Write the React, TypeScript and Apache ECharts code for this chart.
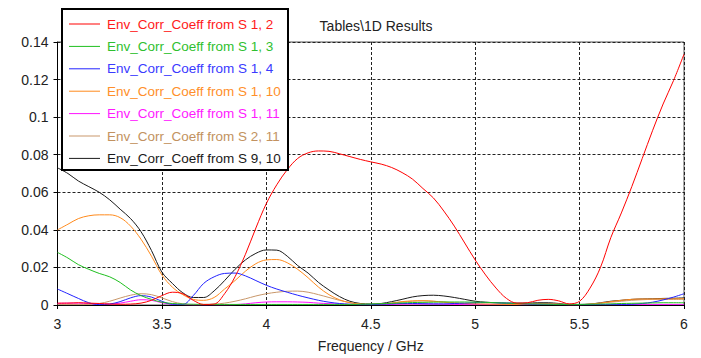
import React, { useEffect, useRef } from "react";
import * as echarts from "echarts";

// Frequency sample points (GHz)
const freq = [
  3.0, 3.05, 3.1, 3.15, 3.2, 3.25, 3.3, 3.35, 3.4, 3.45,
  3.5, 3.55, 3.6, 3.65, 3.7, 3.75, 3.8, 3.85, 3.9, 3.95,
  4.0, 4.05, 4.1, 4.15, 4.2, 4.25, 4.3, 4.35, 4.4, 4.45,
  4.5, 4.55, 4.6, 4.65, 4.7, 4.75, 4.8, 4.85, 4.9, 4.95,
  5.0, 5.05, 5.1, 5.15, 5.2, 5.25, 5.3, 5.35, 5.4, 5.45,
  5.5, 5.55, 5.6, 5.65, 5.7, 5.75, 5.8, 5.85, 5.9, 5.95,
  6.0,
];

const s1_2 = [
  0.001, 0.001, 0.0012, 0.001, 0.0008, 0.0005, 0.0004, 0.0005, 0.001, 0.0025,
  0.005, 0.0068, 0.006, 0.0025, 0.0003, 0.0005, 0.006, 0.015, 0.027, 0.041,
  0.054, 0.064, 0.072, 0.078, 0.081, 0.082, 0.0818, 0.0805, 0.079, 0.0775,
  0.0762, 0.075, 0.0732, 0.0705, 0.067, 0.062, 0.057, 0.05, 0.042, 0.033,
  0.024, 0.016, 0.009, 0.0035, 0.001, 0.0012, 0.0025, 0.003, 0.0022, 0.0006,
  0.002, 0.009, 0.02, 0.036, 0.049, 0.063, 0.078, 0.093, 0.107, 0.1195,
  0.1335,
];

const s1_3 = [
  0.028, 0.025, 0.0215, 0.019, 0.0168, 0.015, 0.012, 0.008, 0.005, 0.003,
  0.0015, 0.0008, 0.0005, 0.0004, 0.0003, 0.0003, 0.0003, 0.0003, 0.0003, 0.0003,
  0.0003, 0.0003, 0.0003, 0.0003, 0.0003, 0.0003, 0.0003, 0.0003, 0.0003, 0.0004,
  0.0005, 0.0007, 0.0009, 0.0011, 0.0013, 0.0014, 0.0015, 0.0016, 0.0016, 0.0016,
  0.0015, 0.0014, 0.0012, 0.001, 0.0008, 0.0006, 0.0005, 0.0004, 0.0003, 0.0003,
  0.0003, 0.0004, 0.0005, 0.0006, 0.0008, 0.0009, 0.001, 0.0011, 0.0012, 0.0012,
  0.0012,
];

const s1_4 = [
  0.0085, 0.006, 0.0035, 0.0012, 0.0002, 0.0005, 0.0018, 0.0038, 0.005, 0.0042,
  0.002, 0.0004, 0.0003, 0.005, 0.0115, 0.015, 0.0168, 0.017, 0.0155, 0.013,
  0.0105, 0.0085, 0.0068, 0.0052, 0.0038, 0.0025, 0.0015, 0.0008, 0.0004, 0.0002,
  0.0002, 0.0004, 0.0006, 0.0008, 0.0008, 0.0007, 0.0006, 0.0006, 0.0008, 0.001,
  0.0012, 0.0013, 0.0012, 0.001, 0.0008, 0.0005, 0.0004, 0.0004, 0.0003, 0.0002,
  0.0002, 0.0002, 0.0003, 0.0003, 0.0003, 0.0004, 0.0008, 0.0015, 0.0027, 0.0042,
  0.006,
];

const s1_10 = [
  0.04, 0.043, 0.046, 0.0475, 0.048, 0.048, 0.0465, 0.042, 0.035, 0.026,
  0.016, 0.0095, 0.0055, 0.003, 0.0025, 0.004, 0.0085, 0.013, 0.018, 0.022,
  0.024, 0.0242, 0.0225, 0.019, 0.0145, 0.0095, 0.0055, 0.0028, 0.0012, 0.0005,
  0.0003, 0.0005, 0.001, 0.0018, 0.0022, 0.0023, 0.002, 0.0015, 0.001, 0.0008,
  0.0006, 0.0005, 0.0004, 0.0003, 0.0003, 0.0005, 0.0008, 0.0008, 0.0005, 0.0002,
  0.0002, 0.0004, 0.001, 0.0018, 0.0025, 0.003, 0.0032, 0.0032, 0.0033, 0.0033,
  0.0034,
];

const s1_11 = [
  0.0008, 0.001, 0.001, 0.0008, 0.0005, 0.0005, 0.001, 0.002, 0.0028, 0.0025,
  0.0012, 0.0004, 0.0002, 0.0001, 0.0001, 0.0001, 0.0001, 0.0002, 0.0006, 0.0012,
  0.0016, 0.0017, 0.0017, 0.0016, 0.0014, 0.001, 0.0007, 0.0005, 0.0003, 0.0002,
  0.0002, 0.0002, 0.0003, 0.0004, 0.0005, 0.0005, 0.0005, 0.0004, 0.0003, 0.0002,
  0.0002, 0.0002, 0.0002, 0.0002, 0.0002, 0.0002, 0.0003, 0.0003, 0.0002, 0.0002,
  0.0002, 0.0002, 0.0002, 0.0002, 0.0002, 0.0003, 0.0003, 0.0003, 0.0003, 0.0003,
  0.0003,
];

const s2_11 = [
  0.0003, 0.0002, 0.0002, 0.0003, 0.0008, 0.002, 0.0037, 0.0052, 0.006, 0.0055,
  0.0038, 0.0018, 0.0006, 0.0002, 0.0002, 0.0004, 0.001, 0.002, 0.0033, 0.0048,
  0.006, 0.0068, 0.0073, 0.0074, 0.0068, 0.0055, 0.004, 0.0025, 0.0013, 0.0005,
  0.0002, 0.0005, 0.001, 0.0016, 0.002, 0.0022, 0.002, 0.0016, 0.0012, 0.0008,
  0.0005, 0.0004, 0.0003, 0.0003, 0.0003, 0.0004, 0.0006, 0.0006, 0.0004, 0.0002,
  0.0002, 0.0005, 0.001, 0.0015, 0.002, 0.0025, 0.0028, 0.003, 0.003, 0.003,
  0.003,
];

const s9_10 = [
  0.073, 0.07, 0.066, 0.063, 0.06, 0.056, 0.051, 0.046, 0.039, 0.029,
  0.0175, 0.0115, 0.0065, 0.004, 0.004, 0.0075, 0.013, 0.019, 0.024, 0.0275,
  0.0293, 0.0292, 0.026, 0.021, 0.017, 0.012, 0.008, 0.0045, 0.002, 0.0008,
  0.0005, 0.0008, 0.0018, 0.003, 0.0043, 0.005, 0.0052, 0.0048, 0.004, 0.003,
  0.002, 0.0015, 0.0012, 0.001, 0.001, 0.001, 0.0012, 0.0012, 0.0008, 0.0003,
  0.0003, 0.0005, 0.0012, 0.002, 0.0025, 0.003, 0.0032, 0.0033, 0.0035, 0.0036,
  0.0038,
];

const seriesNames = [
  "Env_Corr_Coeff from S 1, 2",
  "Env_Corr_Coeff from S 1, 3",
  "Env_Corr_Coeff from S 1, 4",
  "Env_Corr_Coeff from S 1, 10",
  "Env_Corr_Coeff from S 1, 11",
  "Env_Corr_Coeff from S 2, 11",
  "Env_Corr_Coeff from S 9, 10",
];
const seriesValues = [s1_2, s1_3, s1_4, s1_10, s1_11, s2_11, s9_10];
const lineColors = ["#ff0000", "#1fbf1f", "#2222ff", "#ff8a1c", "#ff10ff", "#c8976a", "#1a1a1a"];
const textColors = ["#ff1a1a", "#2fbf2f", "#3a3aff", "#ff8f2a", "#ff1aff", "#c29260", "#1a1a1a"];

const yTicks = { min: 0, max: 0.14, interval: 0.02 };
const xTicks = { min: 3, max: 6, interval: 0.5 };

const FONT = "'Liberation Sans', Arial, sans-serif";

export default function App() {
  const ref = useRef<HTMLDivElement>(null);

  useEffect(() => {
    if (!ref.current) return;
    const chart = echarts.init(ref.current, undefined, { renderer: "svg" });

    const series = seriesNames.map((name, i) => ({
      name,
      type: "line",
      data: freq.map((f, k) => [f, seriesValues[i][k]]),
      smooth: 0.35,
      symbol: "none",
      showSymbol: false,
      clip: true,
      z: 2 + (seriesNames.length - i) * 0.01,
      lineStyle: { color: lineColors[i], width: 1 },
      itemStyle: { color: lineColors[i] },
    }));

    chart.setOption({
      animation: false,
      backgroundColor: "#ffffff",
      title: {
        text: "Tables\\1D Results",
        left: 371,
        top: 14,
        textAlign: "center",
        textStyle: { fontFamily: FONT, fontSize: 14, fontWeight: "normal", color: "#222" },
      },
      grid: {
        left: 57.5,
        right: 17,
        top: 42,
        bottom: 50,
        show: true,
        borderColor: "#555",
        borderWidth: 1,
        backgroundColor: "transparent",
      },
      xAxis: {
        type: "value",
        min: xTicks.min,
        max: xTicks.max,
        interval: xTicks.interval,
        name: "Frequency / GHz",
        nameLocation: "middle",
        nameGap: 34,
        nameTextStyle: { fontFamily: FONT, fontSize: 14, color: "#222" },
        axisLine: { show: true, lineStyle: { color: "#000", width: 1 } },
        axisTick: { show: true, length: 4, lineStyle: { color: "#000" } },
        axisLabel: { fontFamily: FONT, fontSize: 14, color: "#222", margin: 12 },
        splitLine: { show: true, lineStyle: { color: "#222", type: [3, 2], width: 1 } },
      },
      yAxis: {
        type: "value",
        min: yTicks.min,
        max: yTicks.max,
        interval: yTicks.interval,
        axisLine: { show: true, lineStyle: { color: "#000", width: 1 } },
        axisTick: { show: true, length: 4, lineStyle: { color: "#000" } },
        axisLabel: { fontFamily: FONT, fontSize: 14, color: "#222", margin: 9 },
        splitLine: { show: true, lineStyle: { color: "#222", type: [3, 2], width: 1 } },
      },
      legend: {
        orient: "vertical",
        left: 69,
        top: 17,
        padding: 0,
        itemWidth: 31,
        itemHeight: 10,
        itemGap: 8.4,
        selectedMode: false,
        z: 10,
        textStyle: { fontFamily: FONT, fontSize: 13.5, padding: [0, 0, 0, 2] },
        data: seriesNames.map((name, i) => ({
          name,
          icon: "path://M0,4.5 L31,4.5 L31,5.5 L0,5.5 Z",
          itemStyle: { color: lineColors[i] },
          textStyle: { color: textColors[i] },
        })),
      },
      graphic: [
        {
          type: "rect",
          z: 5,
          shape: { x: 62, y: 9, width: 226, height: 161 },
          style: { fill: "#ffffff", stroke: "#000", lineWidth: 2 },
        },
      ],
      series,
    });

    return () => chart.dispose();
  }, []);

  return (
    <div
      ref={ref}
      style={{ position: "absolute", left: 0, top: 0, width: 701, height: 358 }}
    />
  );
}
